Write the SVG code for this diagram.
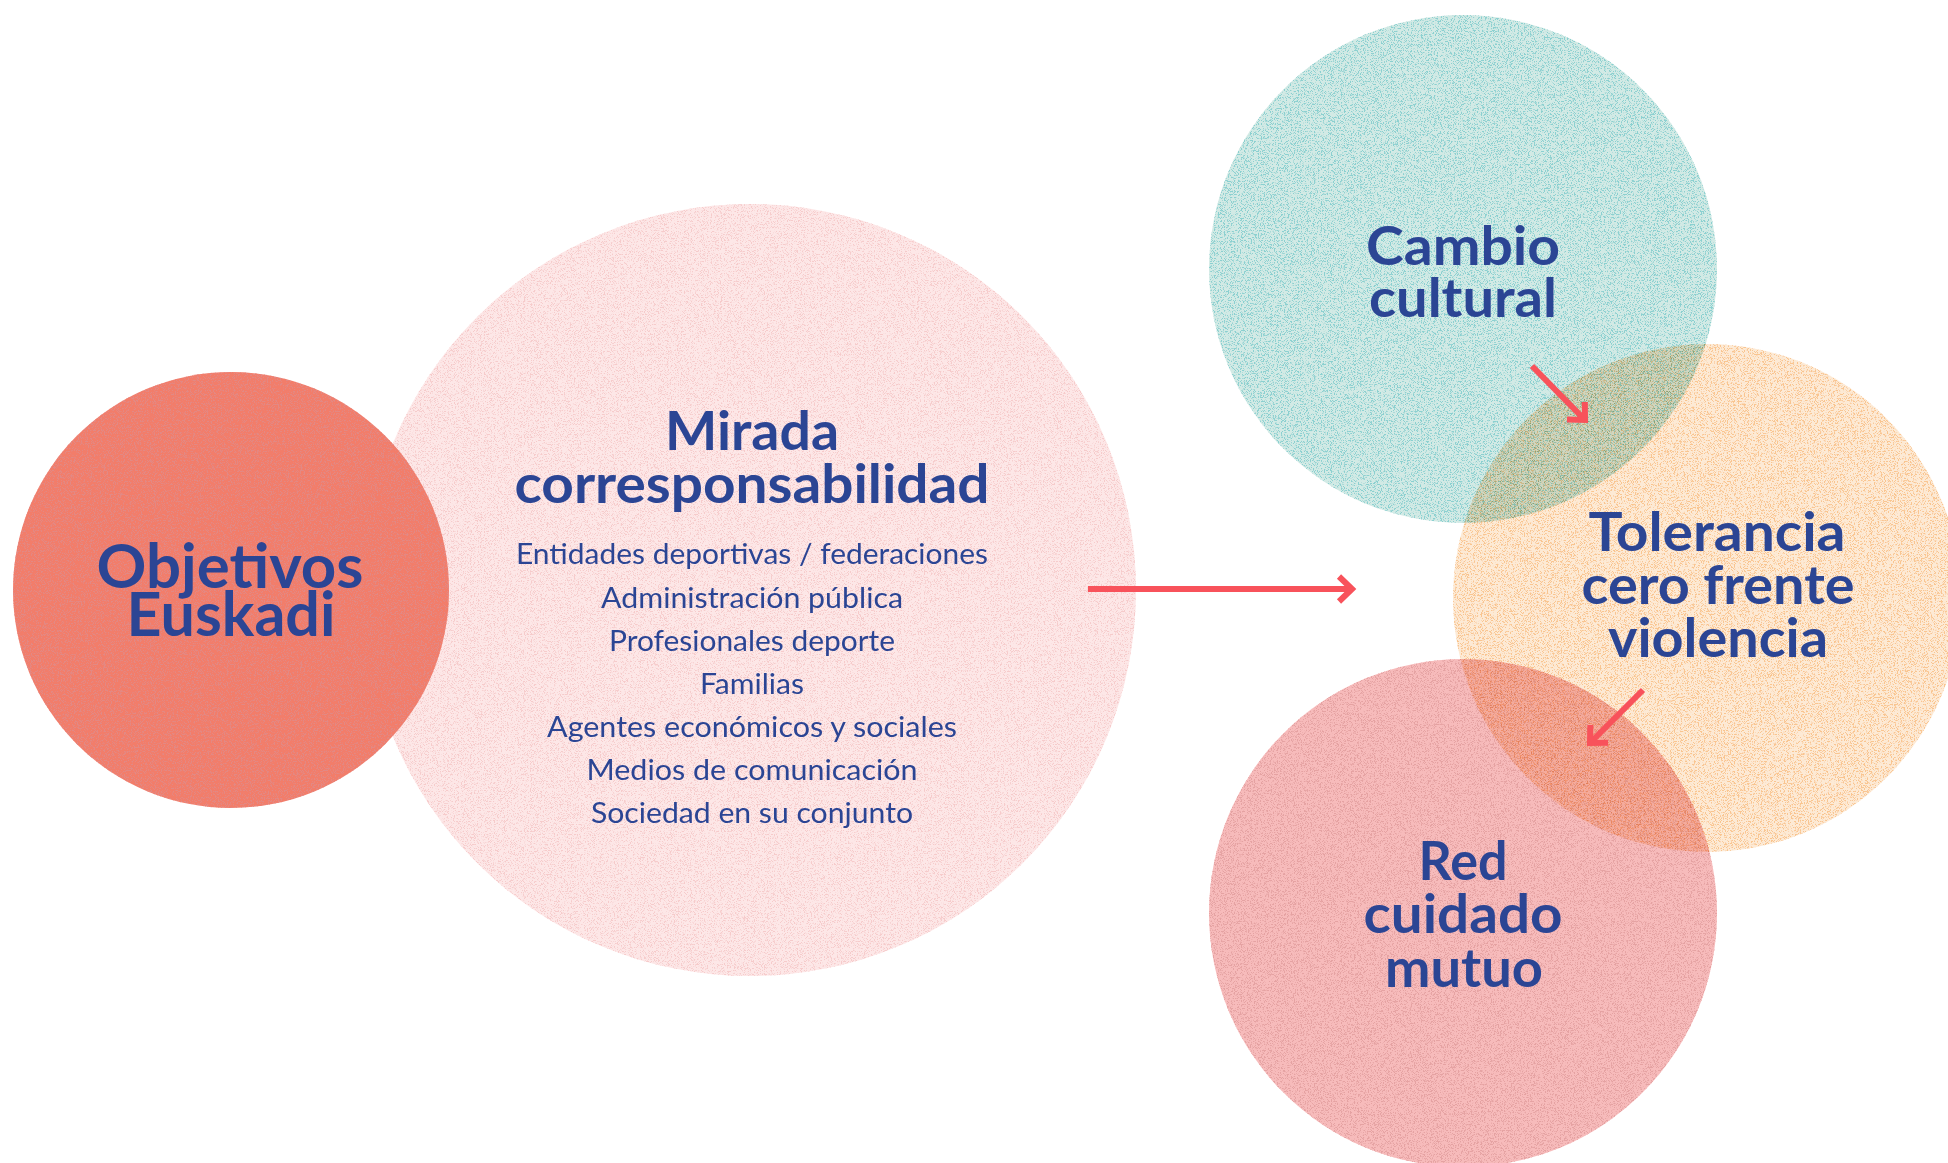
<svg xmlns="http://www.w3.org/2000/svg" width="1948" height="1163" viewBox="0 0 1948 1163">
<style>
.h{font-family:Lato,"Liberation Sans",sans-serif;font-weight:700;fill:#2B4594;text-anchor:middle}
.l{font-family:Lato,"Liberation Sans",sans-serif;font-weight:400;fill:#2B4594;text-anchor:middle;font-size:29px}
.blend{mix-blend-mode:multiply}
.arr{fill:none;stroke:#F8525B;stroke-width:6}
</style>
<defs>
<filter id="gO" x="0" y="0" width="100%" height="100%">
<feTurbulence type="fractalNoise" baseFrequency="1.3" numOctaves="1" seed="2" result="n"/>
<feColorMatrix in="n" type="matrix" values="0 0 0 0 0.76 0 0 0 0 0.25 0 0 0 0 0.23 10 0 0 0 -5.2" result="d"/>
<feComposite in="d" in2="SourceGraphic" operator="in" result="di"/>
<feMerge><feMergeNode in="SourceGraphic"/><feMergeNode in="di"/></feMerge>
</filter>
<filter id="gM" x="0" y="0" width="100%" height="100%">
<feTurbulence type="fractalNoise" baseFrequency="1.3" numOctaves="1" seed="5" result="n"/>
<feColorMatrix in="n" type="matrix" values="0 0 0 0 0.92 0 0 0 0 0.6 0 0 0 0 0.6 8 0 0 0 -4.2" result="d"/>
<feComposite in="d" in2="SourceGraphic" operator="in" result="di"/>
<feMerge><feMergeNode in="SourceGraphic"/><feMergeNode in="di"/></feMerge>
</filter>
<filter id="gC" x="0" y="0" width="100%" height="100%">
<feTurbulence type="fractalNoise" baseFrequency="1.3" numOctaves="1" seed="8" result="n"/>
<feColorMatrix in="n" type="matrix" values="0 0 0 0 0.26 0 0 0 0 0.63 0 0 0 0 0.63 10 0 0 0 -5.2" result="d"/>
<feComposite in="d" in2="SourceGraphic" operator="in" result="di"/>
<feMerge><feMergeNode in="SourceGraphic"/><feMergeNode in="di"/></feMerge>
</filter>
<filter id="gT" x="0" y="0" width="100%" height="100%">
<feTurbulence type="fractalNoise" baseFrequency="1.3" numOctaves="1" seed="11" result="n"/>
<feColorMatrix in="n" type="matrix" values="0 0 0 0 0.95 0 0 0 0 0.56 0 0 0 0 0.28 10 0 0 0 -5.2" result="d"/>
<feComposite in="d" in2="SourceGraphic" operator="in" result="di"/>
<feMerge><feMergeNode in="SourceGraphic"/><feMergeNode in="di"/></feMerge>
</filter>
<filter id="gR" x="0" y="0" width="100%" height="100%">
<feTurbulence type="fractalNoise" baseFrequency="1.3" numOctaves="1" seed="14" result="n"/>
<feColorMatrix in="n" type="matrix" values="0 0 0 0 0.78 0 0 0 0 0.36 0 0 0 0 0.36 10 0 0 0 -5.2" result="d"/>
<feComposite in="d" in2="SourceGraphic" operator="in" result="di"/>
<feMerge><feMergeNode in="SourceGraphic"/><feMergeNode in="di"/></feMerge>
</filter>
<marker id="chev" markerUnits="userSpaceOnUse" viewBox="-18 -16 22 32" refX="0" refY="0" markerWidth="22" markerHeight="32" orient="auto" overflow="visible">
<path d="M-13,-12.5 L0,0 L-13,12.5" fill="none" stroke="#F8525B" stroke-width="6"/>
</marker>
</defs>
<rect width="1948" height="1163" fill="#FFFFFF"/>
<g id="mirada">
<circle cx="750" cy="590" r="386" fill="#FDE7E7" filter="url(#gM)"/>
<text class="h" x="752" y="450" font-size="54" textLength="174" lengthAdjust="spacingAndGlyphs">Mirada</text>
<text class="h" x="752" y="503" font-size="54" textLength="475" lengthAdjust="spacingAndGlyphs">corresponsabilidad</text>
<text class="l" x="752" y="564" textLength="472" lengthAdjust="spacingAndGlyphs">Entidades deportivas / federaciones</text>
<text class="l" x="752" y="608" textLength="302" lengthAdjust="spacingAndGlyphs">Administración pública</text>
<text class="l" x="752" y="651" textLength="286" lengthAdjust="spacingAndGlyphs">Profesionales deporte</text>
<text class="l" x="752" y="694" textLength="104" lengthAdjust="spacingAndGlyphs">Familias</text>
<text class="l" x="752" y="737" textLength="410" lengthAdjust="spacingAndGlyphs">Agentes económicos y sociales</text>
<text class="l" x="752" y="780" textLength="331" lengthAdjust="spacingAndGlyphs">Medios de comunicación</text>
<text class="l" x="752" y="823" textLength="322" lengthAdjust="spacingAndGlyphs">Sociedad en su conjunto</text>
</g>
<g id="objetivos">
<circle cx="231" cy="590" r="218" fill="#F27D6B" filter="url(#gO)"/>
<text class="h" x="230" y="588" font-size="61" textLength="267" lengthAdjust="spacingAndGlyphs">Objetivos</text>
<text class="h" x="231" y="636" font-size="61" textLength="209" lengthAdjust="spacingAndGlyphs">Euskadi</text>
</g>
<g id="cambio" class="blend">
<circle cx="1463" cy="269" r="254" fill="#D2EAE5" filter="url(#gC)"/>
</g>
<g id="tolerancia" class="blend">
<circle cx="1707" cy="598" r="254" fill="#FDEAD5" filter="url(#gT)"/>
</g>
<g id="red" class="blend">
<circle cx="1463" cy="913" r="254" fill="#F7BBBB" filter="url(#gR)"/>
</g>
<g id="labels">
<text class="h" x="1463" y="265" font-size="53" textLength="194" lengthAdjust="spacingAndGlyphs">Cambio</text>
<text class="h" x="1463" y="317" font-size="53" textLength="188" lengthAdjust="spacingAndGlyphs">cultural</text>
<text class="h" x="1717" y="551" font-size="54" textLength="257" lengthAdjust="spacingAndGlyphs">Tolerancia</text>
<text class="h" x="1718" y="604" font-size="54" textLength="273" lengthAdjust="spacingAndGlyphs">cero frente</text>
<text class="h" x="1718" y="657" font-size="54" textLength="220" lengthAdjust="spacingAndGlyphs">violencia</text>
<text class="h" x="1463" y="880" font-size="53" textLength="89" lengthAdjust="spacingAndGlyphs">Red</text>
<text class="h" x="1463" y="933" font-size="53" textLength="199" lengthAdjust="spacingAndGlyphs">cuidado</text>
<text class="h" x="1464" y="987" font-size="53" textLength="158" lengthAdjust="spacingAndGlyphs">mutuo</text>
</g>
<g id="connectors">
<path class="arr" d="M1088,589 L1352,589" marker-end="url(#chev)"/>
<path class="arr" d="M1532,366 L1585,420" marker-end="url(#chev)"/>
<path class="arr" d="M1643,690 L1590,743" marker-end="url(#chev)"/>
</g>
</svg>
